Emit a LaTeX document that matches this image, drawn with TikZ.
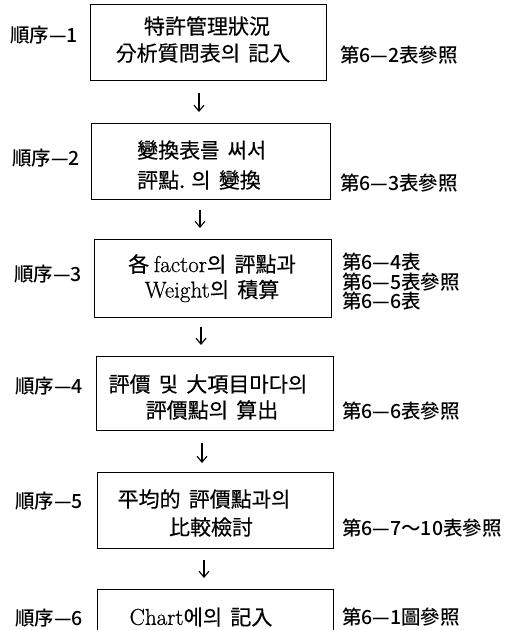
\documentclass[tikz,border=0pt]{standalone}
\usepackage{fontspec}
\newfontfamily\kr{Noto Sans CJK KR}[FakeBold=0.4]
\newfontfamily\krl{Noto Sans CJK KR Medium}
\newfontfamily\latf{Latin Modern Roman}[FakeBold=0.7]
\usetikzlibrary{arrows.meta}
\begin{document}
\begin{tikzpicture}[x=1pt,y=-1pt,
  boxst/.style={draw, line width=0.9pt, inner sep=0pt},
  txt/.style={font=\kr\fontsize{21}{22}\selectfont, inner sep=0pt},
  lbl/.style={font=\krl\fontsize{19.5}{20}\selectfont, inner sep=0pt},
  arr/.style={-{Straight Barb[length=6pt,width=10pt]}, line width=1.1pt}]
\useasboundingbox (0,0) rectangle (515,630);
\clip (0,0) rectangle (515,630);
% boxes
\node[boxst, minimum width=236pt, minimum height=76pt] (b1) at (208,42) {};
\node[boxst, minimum width=239pt, minimum height=76pt] (b2) at (210.5,161) {};
\node[boxst, minimum width=237pt, minimum height=78pt] (b3) at (212.5,278) {};
\node[boxst, minimum width=237pt, minimum height=74pt] (b4) at (214.5,393) {};
\node[boxst, minimum width=236pt, minimum height=76pt] (b5) at (215,510) {};
\node[boxst, minimum width=236pt, minimum height=71pt] (b6) at (215,624.5) {};
% box texts
\node[txt] (t11) at (207,26) {特許管理狀況};
\node[txt] (t12) at (203,53) {分析質問表의 \,記入};
\node[txt, anchor=west] (t21) at (137,150) {變換表를 \,써서};
\node[txt, anchor=west] (t22) at (137,180) {評點. 의 \,變換};
\node[txt] (t31) at (212,264) {各 {\latf\fontsize{23}{24}\selectfont factor}의 \,評點과};
\node[txt] (t32) at (212,291) {{\latf\fontsize{23}{24}\selectfont Weight}의 \,積算};
\node[txt] (t41) at (208,384) {評價 \,및 \,大項目마다의};
\node[txt] (t42) at (212,410) {評價點의 \,算出};
\node[txt] (t51) at (204,499) {平均的 \,評價點과의};
\node[txt] (t52) at (211,527) {比較檢討};
\node[txt] (t61) at (201,617) {{\latf\fontsize{23}{24}\selectfont Chart}에의 \,記入};
% left labels
\node[lbl, anchor=east] (l1) at (78,35) {順序—1};
\node[lbl, anchor=east] (l2) at (80,158) {順序—2};
\node[lbl, anchor=east] (l3) at (82,274) {順序—3};
\node[lbl, anchor=east] (l4) at (83,386) {順序—4};
\node[lbl, anchor=east] (l5) at (83,501) {順序—5};
\node[lbl, anchor=east] (l6) at (83,618) {順序—6};
% right labels
\node[lbl, anchor=west] (r1) at (340,55) {第6—2表參照};
\node[lbl, anchor=west] (r2) at (340,183) {第6—3表參照};
\node[lbl, anchor=west] (r3a) at (342,262) {第6—4表};
\node[lbl, anchor=west] (r3b) at (342,282) {第6—5表參照};
\node[lbl, anchor=west] (r3c) at (342,301) {第6—6表};
\node[lbl, anchor=west] (r4) at (342,411) {第6—6表參照};
\node[lbl, anchor=west] (r5) at (342,528) {第6—7～10表參照};
\node[lbl, anchor=west] (r6) at (342,617) {第6—1圖參照};
% arrows
\coordinate (a1s) at (199,93);  \coordinate (a1e) at (199,112);
\coordinate (a2s) at (200,210); \coordinate (a2e) at (200,228);
\coordinate (a3s) at (201,327); \coordinate (a3e) at (201,345);
\coordinate (a4s) at (202,443); \coordinate (a4e) at (202,463);
\coordinate (a5s) at (204,560); \coordinate (a5e) at (204,578);
\draw[arr] (a1s) -- (a1e);
\draw[arr] (a2s) -- (a2e);
\draw[arr] (a3s) -- (a3e);
\draw[arr] (a4s) -- (a4e);
\draw[arr] (a5s) -- (a5e);
\end{tikzpicture}
\end{document}
